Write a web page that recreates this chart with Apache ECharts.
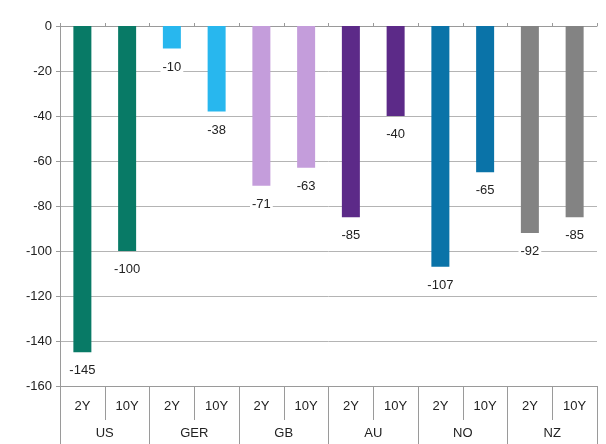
<!DOCTYPE html>
<html>
<head>
<meta charset="utf-8">
<script src="https://cdn.jsdelivr.net/npm/echarts@6/dist/echarts.min.js"></script>
<style>
  html, body { margin: 0; padding: 0; background: #fff; }
  #chart { width: 606px; height: 444px; }
</style>
</head>
<body>
<div id="chart"></div>
<script>
// Spread changes by country and tenor (bp)
const countries = ['US', 'GER', 'GB', 'AU', 'NO', 'NZ'];
const tenors = ['2Y', '10Y'];
const values = [-145, -100, -10, -38, -71, -63, -85, -40, -107, -65, -92, -85];
const yTicks = [0, -20, -40, -60, -80, -100, -120, -140, -160];

// one colour per country, shared by its two tenors
const countryColors = ['#087a66', '#28b7ee', '#c49ddb', '#5c2a88', '#0a73a8', '#838383'];

const subCategories = [];
countries.forEach(() => tenors.forEach(t => subCategories.push(t)));

const font = 'Liberation Sans, Arial, sans-serif';
const axisGrey = '#9a9a9a';

const chart = echarts.init(document.getElementById('chart'), null, { renderer: 'canvas' });

chart.setOption({
  animation: false,
  backgroundColor: '#fff',
  grid: { left: 60, right: 9, top: 26, bottom: 58, containLabel: false },
  xAxis: [
    {
      // tenor row under the plot
      type: 'category',
      position: 'bottom',
      data: subCategories,
      axisLine: { show: true, onZero: false, lineStyle: { color: axisGrey } },
      axisTick: { show: true, length: 34, lineStyle: { color: axisGrey } },
      axisLabel: { interval: 0, margin: 14, fontFamily: font, fontSize: 13, color: '#222' },
      splitLine: { show: false }
    },
    {
      // country row under the tenors
      type: 'category',
      position: 'bottom',
      data: countries,
      axisLine: { show: false, onZero: false },
      axisTick: { show: true, length: 58, lineStyle: { color: axisGrey } },
      axisLabel: { interval: 0, margin: 41, fontFamily: font, fontSize: 13, color: '#222' },
      splitLine: { show: false }
    },
    {
      // zero line along the top
      type: 'category',
      position: 'top',
      data: subCategories,
      axisLine: { show: true, onZero: false, lineStyle: { color: axisGrey } },
      axisTick: { show: true, length: 3, lineStyle: { color: axisGrey } },
      axisLabel: { show: false },
      splitLine: { show: false }
    }
  ],
  yAxis: {
    type: 'value',
    min: yTicks[yTicks.length - 1],
    max: yTicks[0],
    interval: 20,
    axisLine: { show: true, onZero: false, lineStyle: { color: axisGrey } },
    axisTick: { show: true, length: 4, lineStyle: { color: axisGrey } },
    axisLabel: { margin: 8, fontFamily: font, fontSize: 13, color: '#222' },
    splitLine: { show: true, lineStyle: { color: '#b4b4b4', width: 1 } }
  },
  series: [{
    type: 'bar',
    xAxisIndex: 0,
    data: values,
    barWidth: 18,
    itemStyle: {
      color: p => countryColors[Math.floor(p.dataIndex / tenors.length)]
    },
    label: {
      show: true,
      position: 'bottom',
      distance: 11,
      fontFamily: font,
      fontSize: 13,
      color: '#222',
      backgroundColor: '#fff',
      padding: [1, 2]
    }
  }]
});
</script>
</body>
</html>
